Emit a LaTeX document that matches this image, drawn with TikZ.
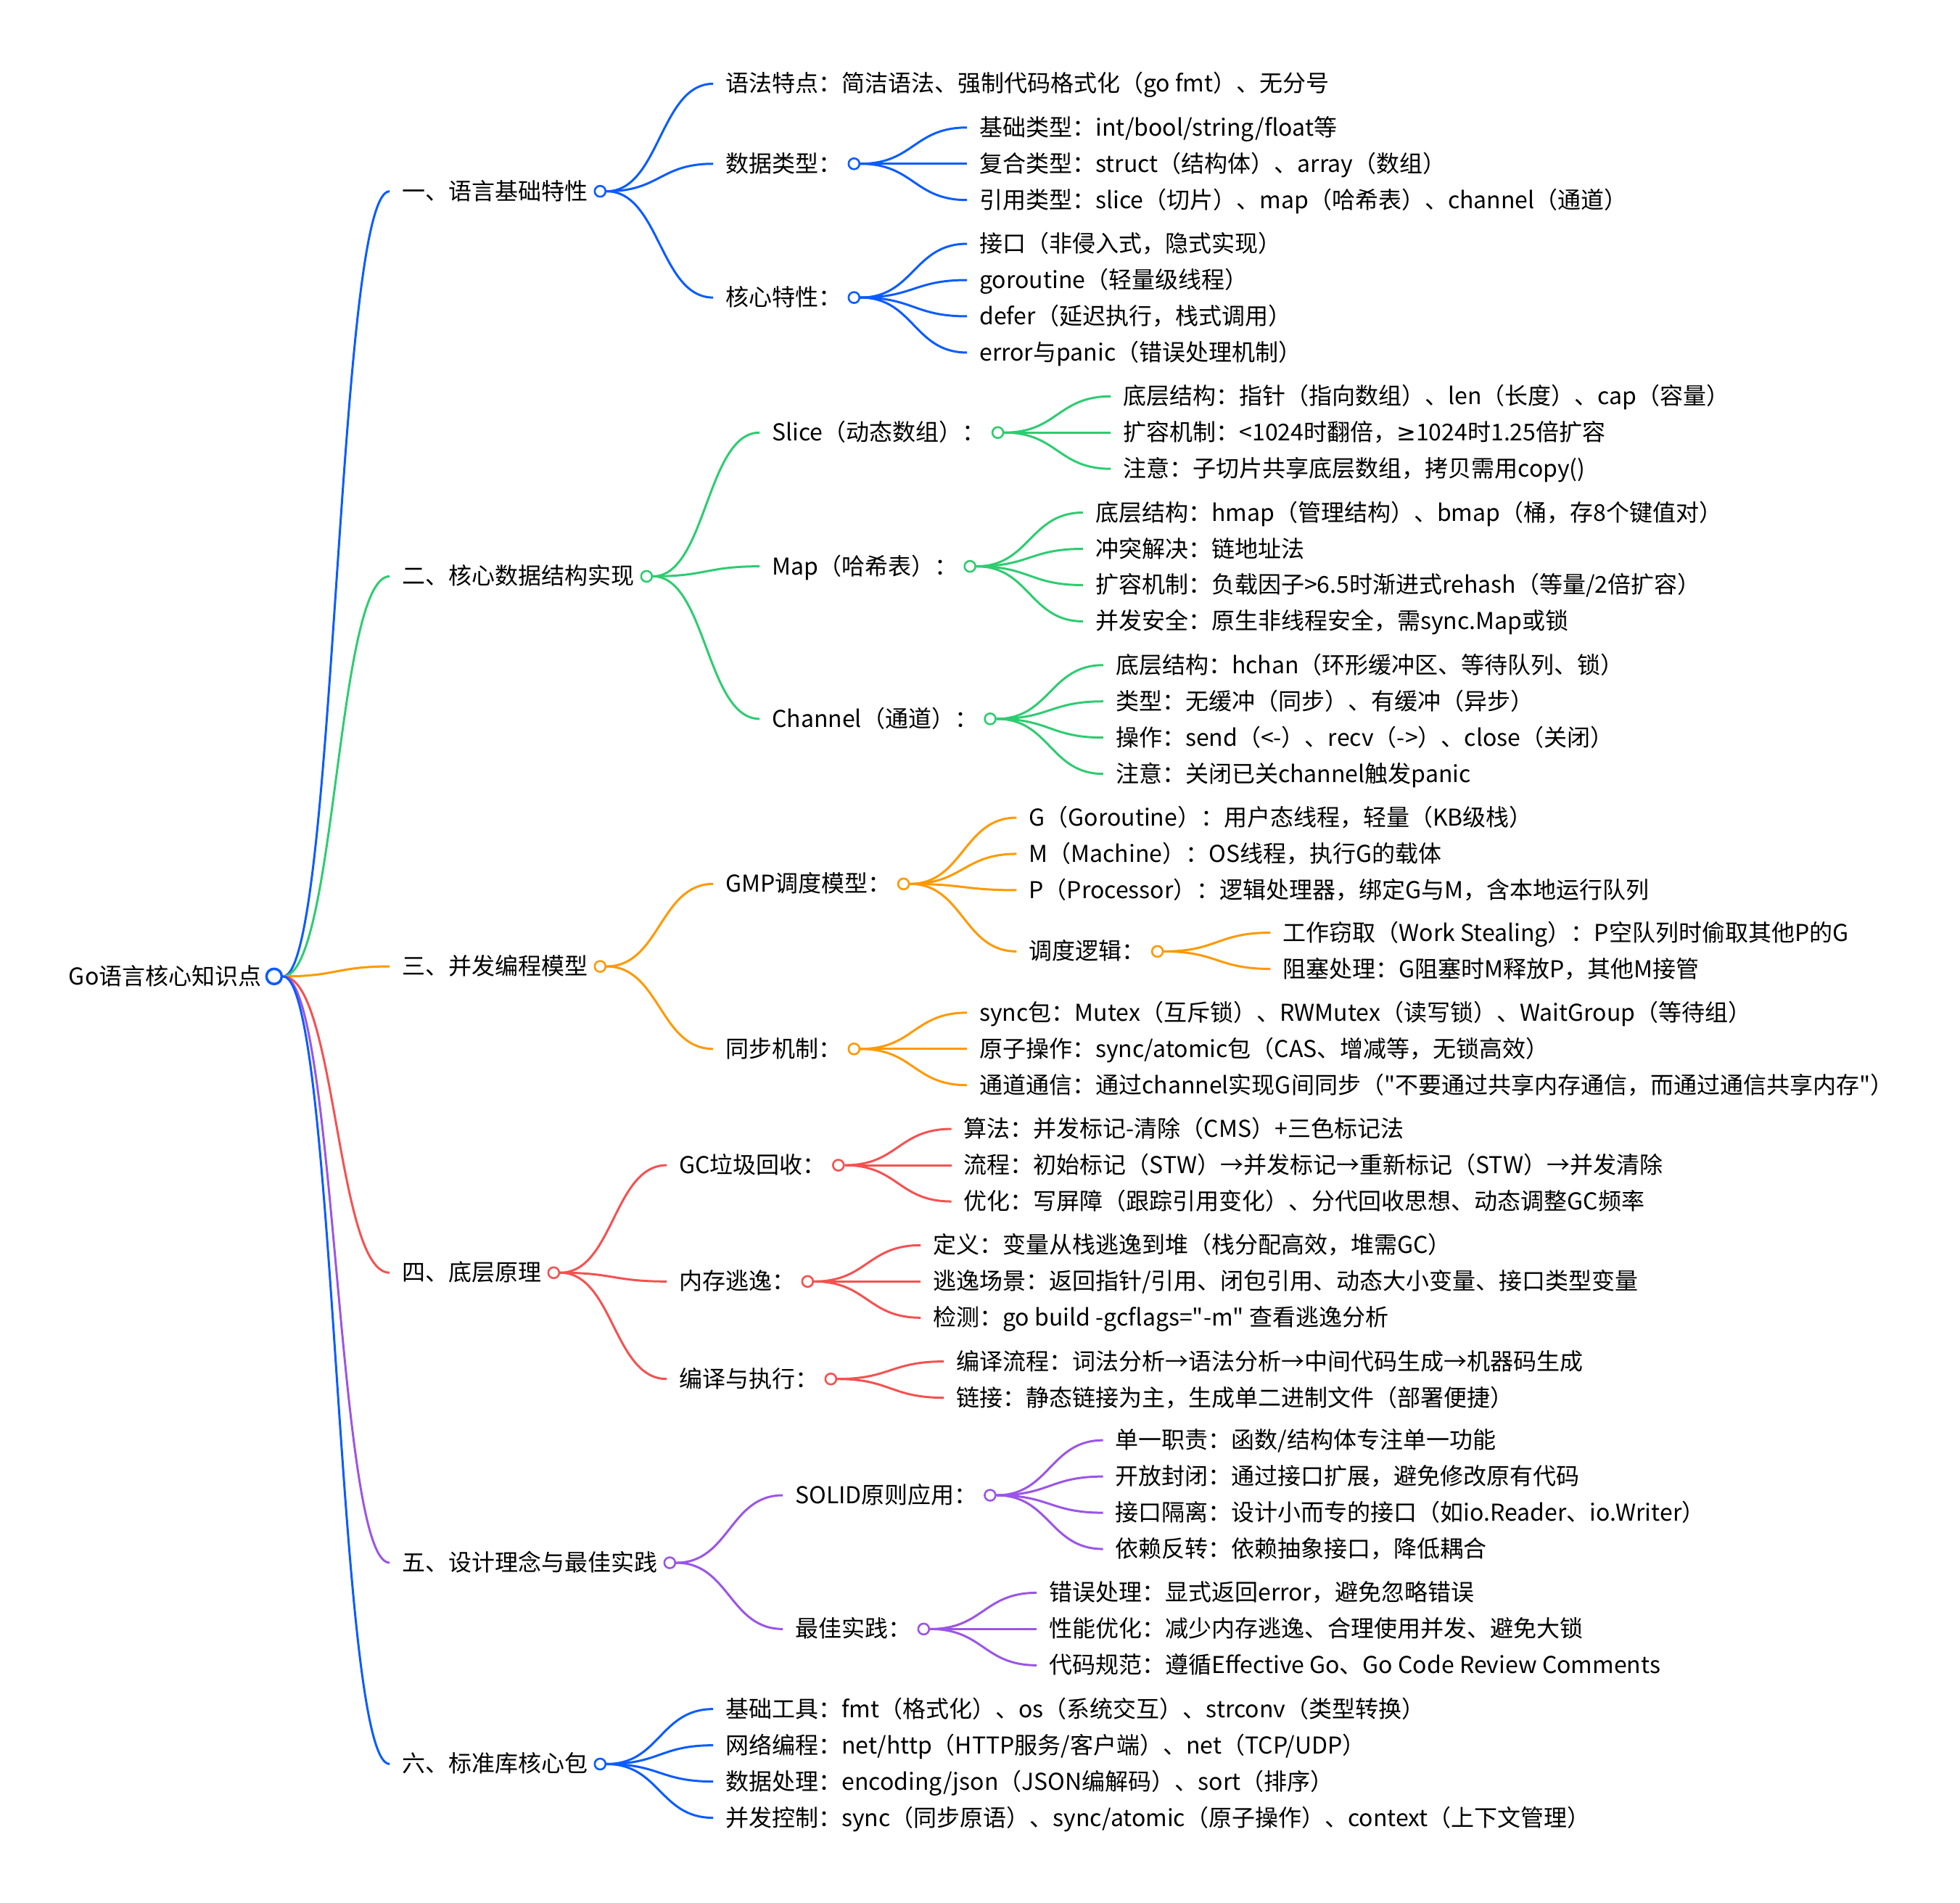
\documentclass[tikz,border=0pt]{standalone}
\usepackage{fontspec}
\setmainfont{Noto Sans CJK SC}[Ligatures=TeXOff]
\newfontfamily\symfont{DejaVu Sans}
\usetikzlibrary{positioning,calc}
\definecolor{MMBlue}{HTML}{0A5CFF}
\definecolor{MMGreen}{HTML}{2ECC71}
\definecolor{MMOrange}{HTML}{FF9900}
\definecolor{MMRed}{HTML}{F55151}
\definecolor{MMPurple}{HTML}{9B55E6}
\newcommand{\branch}[3]{\path (#2.east) coordinate (bs) ([xshift=-17pt]#3.west) coordinate (be) ($(bs)!0.5!(be)$) coordinate (bm);
  \draw[wire=#1] (bs) .. controls (bm |- bs) and (bm |- be) .. (be);}

\begin{document}
\begin{tikzpicture}[x=1.7232pt, y=-1.7232pt,
    every node/.style={font=\fontsize{32}{38}\selectfont},
    txt/.style={anchor=west, inner sep=0pt, text height=25pt, text depth=2pt},
    kid/.style={txt, xshift=164pt},
    dot/.style={circle, draw=#1, fill=white, line width=2.6pt, minimum size=15pt, inner sep=0pt, anchor=west},
    wire/.style={draw=#1, line width=3pt}]
  \useasboundingbox (0,0) rectangle (1568,1522);

  \node[txt] (root) at (55,781) {Go语言核心知识点};
  \node[dot=MMBlue, minimum size=21pt, line width=3.5pt] (rootc) at ([xshift=5pt]root.east) {};

  \node[kid] (a) at (rootc.east |- 0,153) {一、语言基础特性};
  \node[kid] (b) at (rootc.east |- 0,461) {二、核心数据结构实现};
  \node[kid] (c) at (rootc.east |- 0,773) {三、并发编程模型};
  \node[kid] (d) at (rootc.east |- 0,1018) {四、底层原理};
  \node[kid] (e) at (rootc.east |- 0,1250) {五、设计理念与最佳实践};
  \node[kid] (f) at (rootc.east |- 0,1411) {六、标准库核心包};
  \node[dot=MMBlue] (ac) at ([xshift=8pt]a.east) {};
  \node[dot=MMGreen] (bc) at ([xshift=8pt]b.east) {};
  \node[dot=MMOrange] (cc) at ([xshift=8pt]c.east) {};
  \node[dot=MMRed] (dc) at ([xshift=8pt]d.east) {};
  \node[dot=MMPurple] (ec) at ([xshift=8pt]e.east) {};
  \node[dot=MMBlue] (fc) at ([xshift=8pt]f.east) {};

  \node[kid] (a1) at (ac.east |- 0,67) {语法特点：简洁语法、强制代码格式化（go fmt）、无分号};
  \node[kid] (a2) at (ac.east |- 0,131) {数据类型：};
  \node[kid] (a3) at (ac.east |- 0,238) {核心特性：};
  \node[dot=MMBlue] (a2c) at ([xshift=8pt]a2.east) {};
  \node[dot=MMBlue] (a3c) at ([xshift=8pt]a3.east) {};
  \node[kid] (a21) at (a2c.east |- 0,102) {基础类型：int/bool/string/float等};
  \node[kid] (a22) at (a2c.east |- 0,131) {复合类型：struct（结构体）、array（数组）};
  \node[kid] (a23) at (a2c.east |- 0,160) {引用类型：slice（切片）、map（哈希表）、channel（通道）};
  \node[kid] (a31) at (a3c.east |- 0,195) {接口（非侵入式，隐式实现）};
  \node[kid] (a32) at (a3c.east |- 0,224) {goroutine（轻量级线程）};
  \node[kid] (a33) at (a3c.east |- 0,253) {defer（延迟执行，栈式调用）};
  \node[kid] (a34) at (a3c.east |- 0,282) {error与panic（错误处理机制）};

  \node[kid] (b1) at (bc.east |- 0,346) {Slice（动态数组）：};
  \node[kid] (b2) at (bc.east |- 0,453) {Map（哈希表）：};
  \node[kid] (b3) at (bc.east |- 0,575) {Channel（通道）：};
  \node[dot=MMGreen] (b1c) at ([xshift=8pt]b1.east) {};
  \node[dot=MMGreen] (b2c) at ([xshift=8pt]b2.east) {};
  \node[dot=MMGreen] (b3c) at ([xshift=8pt]b3.east) {};
  \node[kid] (b11) at (b1c.east |- 0,317) {底层结构：指针（指向数组）、len（长度）、cap（容量）};
  \node[kid] (b12) at (b1c.east |- 0,346) {扩容机制：<1024时翻倍，{\symfont ≥}1024时1.25倍扩容};
  \node[kid] (b13) at (b1c.east |- 0,375) {注意：子切片共享底层数组，拷贝需用copy()};
  \node[kid] (b21) at (b2c.east |- 0,410) {底层结构：hmap（管理结构）、bmap（桶，存8个键值对）};
  \node[kid] (b22) at (b2c.east |- 0,439) {冲突解决：链地址法};
  \node[kid] (b23) at (b2c.east |- 0,468) {扩容机制：负载因子>6.5时渐进式rehash（等量/2倍扩容）};
  \node[kid] (b24) at (b2c.east |- 0,497) {并发安全：原生非线程安全，需sync.Map或锁};
  \node[kid] (b31) at (b3c.east |- 0,532) {底层结构：hchan（环形缓冲区、等待队列、锁）};
  \node[kid] (b32) at (b3c.east |- 0,561) {类型：无缓冲（同步）、有缓冲（异步）};
  \node[kid] (b33) at (b3c.east |- 0,590) {操作：send（<-）、recv（->）、close（关闭）};
  \node[kid] (b34) at (b3c.east |- 0,619) {注意：关闭已关channel触发panic};

  \node[kid] (c1) at (cc.east |- 0,707) {GMP调度模型：};
  \node[kid] (c2) at (cc.east |- 0,839) {同步机制：};
  \node[dot=MMOrange] (c1c) at ([xshift=8pt]c1.east) {};
  \node[dot=MMOrange] (c2c) at ([xshift=8pt]c2.east) {};
  \node[kid] (c11) at (c1c.east |- 0,654) {G（Goroutine）：用户态线程，轻量（KB级栈）};
  \node[kid] (c12) at (c1c.east |- 0,683) {M（Machine）：OS线程，执行G的载体};
  \node[kid] (c13) at (c1c.east |- 0,712) {P（Processor）：逻辑处理器，绑定G与M，含本地运行队列};
  \node[kid] (c14) at (c1c.east |- 0,761) {调度逻辑：};
  \node[dot=MMOrange] (c14c) at ([xshift=8pt]c14.east) {};
  \node[kid] (c141) at (c14c.east |- 0,746) {工作窃取（Work Stealing）：P空队列时偷取其他P的G};
  \node[kid] (c142) at (c14c.east |- 0,775) {阻塞处理：G阻塞时M释放P，其他M接管};
  \node[kid] (c21) at (c2c.east |- 0,810) {sync包：Mutex（互斥锁）、RWMutex（读写锁）、WaitGroup（等待组）};
  \node[kid] (c22) at (c2c.east |- 0,839) {原子操作：sync/atomic包（CAS、增减等，无锁高效）};
  \node[kid] (c23) at (c2c.east |- 0,868) {通道通信：通过channel实现G间同步（"不要通过共享内存通信，而通过通信共享内存"）};

  \node[kid] (d1) at (dc.east |- 0,932) {GC垃圾回收：};
  \node[kid] (d2) at (dc.east |- 0,1025) {内存逃逸：};
  \node[kid] (d3) at (dc.east |- 0,1103) {编译与执行：};
  \node[dot=MMRed] (d1c) at ([xshift=8pt]d1.east) {};
  \node[dot=MMRed] (d2c) at ([xshift=8pt]d2.east) {};
  \node[dot=MMRed] (d3c) at ([xshift=8pt]d3.east) {};
  \node[kid] (d11) at (d1c.east |- 0,903) {算法：并发标记-清除（CMS）+三色标记法};
  \node[kid] (d12) at (d1c.east |- 0,932) {流程：初始标记（STW）→并发标记→重新标记（STW）→并发清除};
  \node[kid] (d13) at (d1c.east |- 0,961) {优化：写屏障（跟踪引用变化）、分代回收思想、动态调整GC频率};
  \node[kid] (d21) at (d2c.east |- 0,996) {定义：变量从栈逃逸到堆（栈分配高效，堆需GC）};
  \node[kid] (d22) at (d2c.east |- 0,1025) {逃逸场景：返回指针/引用、闭包引用、动态大小变量、接口类型变量};
  \node[kid] (d23) at (d2c.east |- 0,1054) {检测：go build -gcflags="-m" 查看逃逸分析};
  \node[kid] (d31) at (d3c.east |- 0,1089) {编译流程：词法分析→语法分析→中间代码生成→机器码生成};
  \node[kid] (d32) at (d3c.east |- 0,1118) {链接：静态链接为主，生成单二进制文件（部署便捷）};

  \node[kid] (e1) at (ec.east |- 0,1196) {SOLID原则应用：};
  \node[kid] (e2) at (ec.east |- 0,1303) {最佳实践：};
  \node[dot=MMPurple] (e1c) at ([xshift=8pt]e1.east) {};
  \node[dot=MMPurple] (e2c) at ([xshift=8pt]e2.east) {};
  \node[kid] (e11) at (e1c.east |- 0,1152) {单一职责：函数/结构体专注单一功能};
  \node[kid] (e12) at (e1c.east |- 0,1181) {开放封闭：通过接口扩展，避免修改原有代码};
  \node[kid] (e13) at (e1c.east |- 0,1210) {接口隔离：设计小而专的接口（如io.Reader、io.Writer）};
  \node[kid] (e14) at (e1c.east |- 0,1239) {依赖反转：依赖抽象接口，降低耦合};
  \node[kid] (e21) at (e2c.east |- 0,1274) {错误处理：显式返回error，避免忽略错误};
  \node[kid] (e22) at (e2c.east |- 0,1303) {性能优化：减少内存逃逸、合理使用并发、避免大锁};
  \node[kid] (e23) at (e2c.east |- 0,1332) {代码规范：遵循Effective Go、Go Code Review Comments};

  \node[kid] (f1) at (fc.east |- 0,1367) {基础工具：fmt（格式化）、os（系统交互）、strconv（类型转换）};
  \node[kid] (f2) at (fc.east |- 0,1396) {网络编程：net/http（HTTP服务/客户端）、net（TCP/UDP）};
  \node[kid] (f3) at (fc.east |- 0,1425) {数据处理：encoding/json（JSON编解码）、sort（排序）};
  \node[kid] (f4) at (fc.east |- 0,1454) {并发控制：sync（同步原语）、sync/atomic（原子操作）、context（上下文管理）};

  \branch{MMBlue}{rootc}{a}
  \branch{MMGreen}{rootc}{b}
  \branch{MMOrange}{rootc}{c}
  \branch{MMRed}{rootc}{d}
  \branch{MMPurple}{rootc}{e}
  \branch{MMBlue}{rootc}{f}
  \foreach \k in {a1,a2,a3} {\branch{MMBlue}{ac}{\k}}
  \foreach \k in {a21,a22,a23} {\branch{MMBlue}{a2c}{\k}}
  \foreach \k in {a31,a32,a33,a34} {\branch{MMBlue}{a3c}{\k}}
  \foreach \k in {b1,b2,b3} {\branch{MMGreen}{bc}{\k}}
  \foreach \k in {b11,b12,b13} {\branch{MMGreen}{b1c}{\k}}
  \foreach \k in {b21,b22,b23,b24} {\branch{MMGreen}{b2c}{\k}}
  \foreach \k in {b31,b32,b33,b34} {\branch{MMGreen}{b3c}{\k}}
  \foreach \k in {c1,c2} {\branch{MMOrange}{cc}{\k}}
  \foreach \k in {c11,c12,c13,c14} {\branch{MMOrange}{c1c}{\k}}
  \foreach \k in {c141,c142} {\branch{MMOrange}{c14c}{\k}}
  \foreach \k in {c21,c22,c23} {\branch{MMOrange}{c2c}{\k}}
  \foreach \k in {d1,d2,d3} {\branch{MMRed}{dc}{\k}}
  \foreach \k in {d11,d12,d13} {\branch{MMRed}{d1c}{\k}}
  \foreach \k in {d21,d22,d23} {\branch{MMRed}{d2c}{\k}}
  \foreach \k in {d31,d32} {\branch{MMRed}{d3c}{\k}}
  \foreach \k in {e1,e2} {\branch{MMPurple}{ec}{\k}}
  \foreach \k in {e11,e12,e13,e14} {\branch{MMPurple}{e1c}{\k}}
  \foreach \k in {e21,e22,e23} {\branch{MMPurple}{e2c}{\k}}
  \foreach \k in {f1,f2,f3,f4} {\branch{MMBlue}{fc}{\k}}
\end{tikzpicture}
\end{document}
